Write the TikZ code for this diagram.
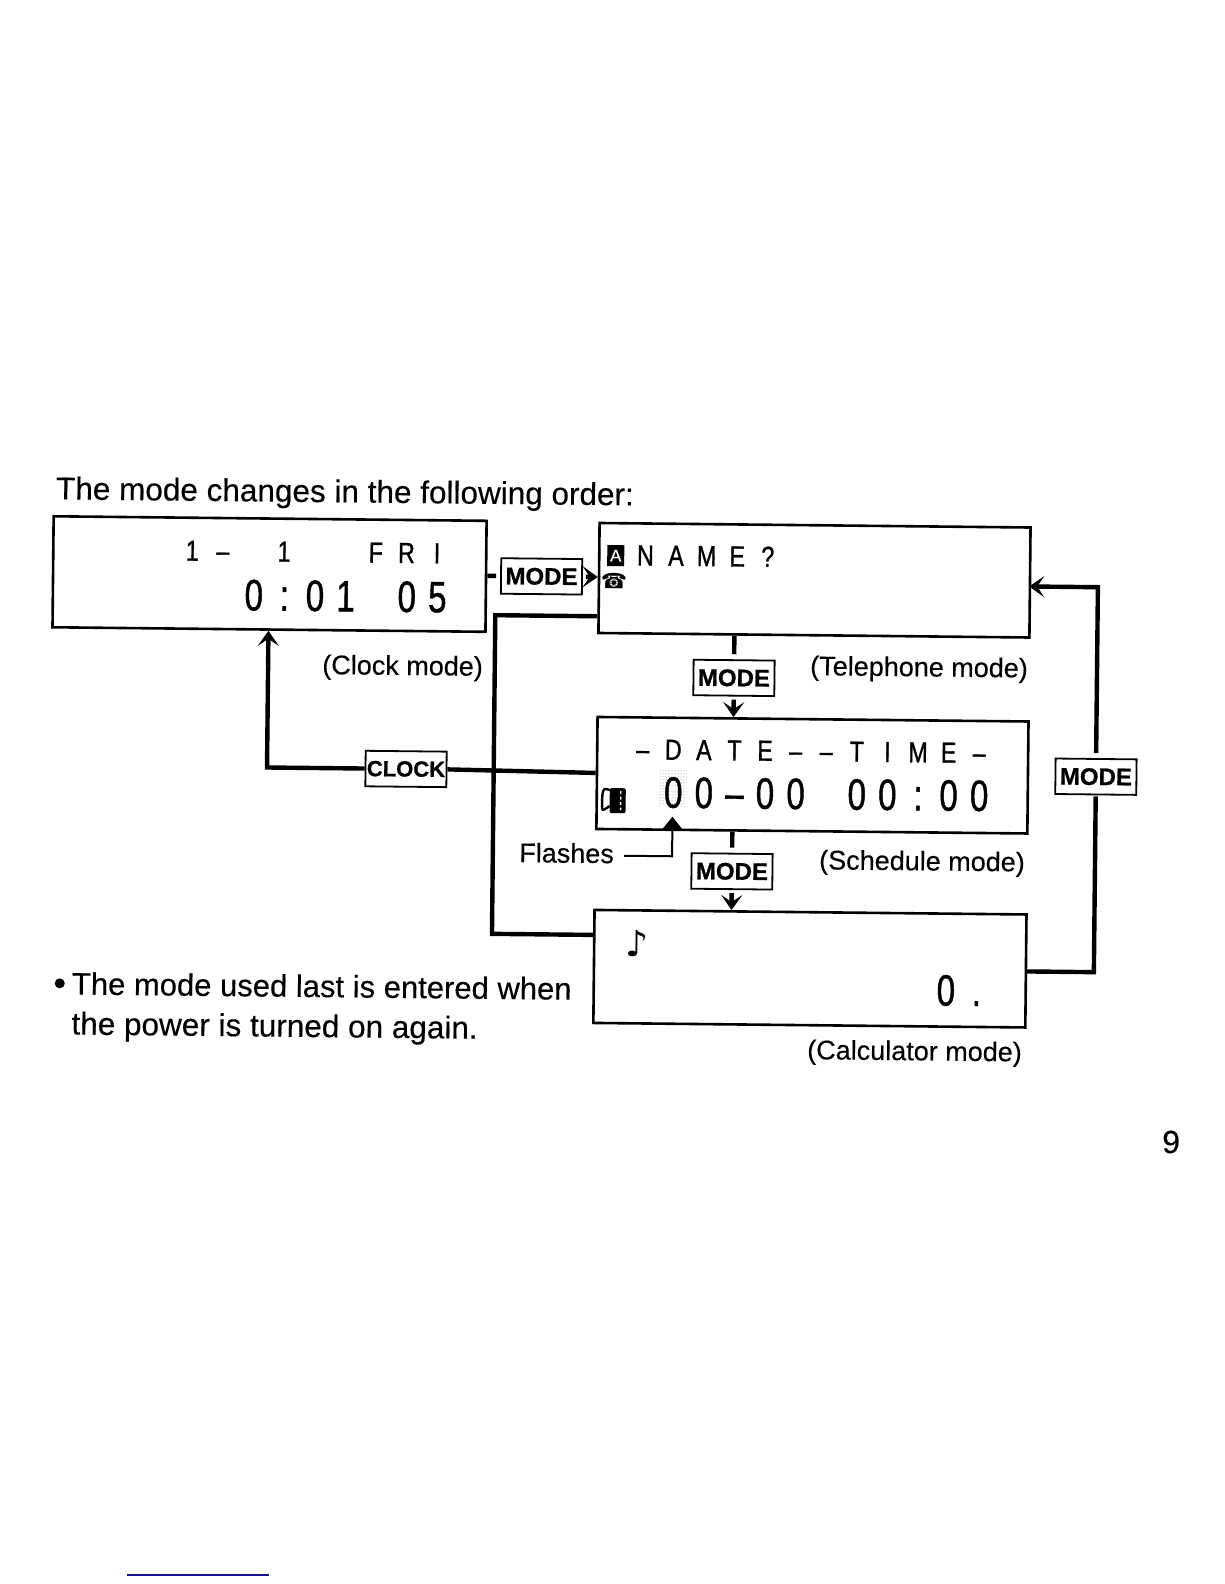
\documentclass[tikz,border=0pt]{standalone}
\usepackage{fontspec}
\setmainfont[FakeBold=0.3]{Liberation Sans}
\newfontfamily\lcdfont[FakeStretch=0.8, FakeBold=1]{Liberation Sans}
\newfontfamily\digitfont[FakeStretch=0.75, FakeBold=1]{Liberation Sans}
\newfontfamily\keyfont[BoldFeatures={FakeBold=0.8}]{Liberation Sans}
\newfontfamily\symfont{DejaVu Sans}
\definecolor{scanblue}{RGB}{20,20,140}
\usetikzlibrary{arrows.meta,patterns}
\newcommand{\lc}[1]{\makebox[30.6pt]{#1}}

\tikzset{
  panel/.style={draw, line width=2.6pt, inner sep=0pt},
  modekey/.style={draw, fill=white, line width=1.8pt, minimum width=81pt, minimum height=35.5pt,
        inner sep=0pt, font=\keyfont\bfseries\fontsize{24}{24}\selectfont},
  link/.style={line width=4.4pt},
  linkto/.style={link, shorten <=3pt, -{Stealth[length=15pt, width=21pt, inset=7pt]}},
  caption/.style={anchor=base east, inner sep=0pt, font=\fontsize{27}{27}\selectfont},
  lcdrow/.style={anchor=base west, inner sep=0pt, font=\lcdfont\fontsize{29}{29}\selectfont},
  digitrow/.style={anchor=base west, inner sep=0pt, font=\digitfont\fontsize{44}{44}\selectfont},
  bodytext/.style={anchor=base west, inner sep=0pt, font=\fontsize{31.5}{40}\selectfont}
}

\begin{document}
\begin{tikzpicture}[x=1pt, y=-1pt]
  \useasboundingbox (0,0) rectangle (1224,1584);
  \begin{scope}[rotate around={-0.6:(600,770)}, transform shape]

  % the four displays
  \node[panel, minimum width=433pt, minimum height=111pt] (clock) at (267.5,577.5) {};
  \node[panel, minimum width=431pt, minimum height=110pt] (phone) at (812.5,578) {};
  \node[panel, minimum width=431pt, minimum height=112pt] (sched) at (812.5,773) {};
  \node[panel, minimum width=432pt, minimum height=113pt] (calc) at (812,966.5) {};

  % keys
  \node[modekey] (modeA) at (539.5,577) {MODE};
  \node[modekey] (modeB) at (733,676.5) {MODE};
  \node[modekey] (modeC) at (733,870) {MODE};
  \node[modekey] (modeD) at (1096,771.5) {MODE};
  \node[modekey, font=\keyfont\bfseries\fontsize{22}{22}\selectfont] (clockkey) at (406,771) {CLOCK};

  % connectors
  \draw[link, shorten >=4pt] (clock.east |- modeA) -- (modeA.west);
  \draw[linkto] (modeA.east) -- (modeA -| phone.west);
  \draw[link, shorten >=5pt] (phone.south -| modeB) -- (modeB.north);
  \draw[linkto] (modeB.south) -- (modeB |- sched.north);
  \draw[link, shorten >=5pt] (sched.south -| modeC) -- (modeC.north);
  \draw[linkto] (modeC.south) -- (modeC |- calc.north);
  \draw[link] ([yshift=18pt]phone.south west) -- ++(-102,0) |- ([yshift=31.5pt]calc.west);
  \draw[link] (sched.west) -- (clockkey.east);
  \draw[linkto, shorten <=0pt] (clockkey.west) -| (clock.south -| 267,0);
  \draw[link, shorten >=1pt] ([yshift=-0.5pt]calc.east) -| (modeD.south);
  \draw[linkto, shorten <=5pt, shorten >=-2pt] (modeD.north) |- ([yshift=-4pt]phone.east);

  % clock display
  \node[lcdrow] (clockA) at (174.5,565) {\lc{1}\lc{–}\lc{}\lc{1}\lc{}\lc{}\lc{F}\lc{R}\lc{I}};
  \node[digitrow] (clockB) at (236.5,614) {\lc{0}\lc{:}\lc{0}\lc{1}\lc{}\lc{0}\lc{5}};
  \node[caption] (clockcap) at (482,677) {(Clock mode)};

  % telephone display
  \node[fill=black, text=white, inner sep=0pt, minimum width=17pt, minimum height=21pt,
        font=\fontsize{17}{17}\selectfont] (letter) at (613.5,555.5) {A};
  \node[inner sep=0pt, font=\symfont\fontsize{21}{21}\selectfont] (phoneicon) at (612,581) {☎};
  \node[lcdrow] (phoneA) at (627.7,565) {\lc{N}\lc{A}\lc{M}\lc{E}\lc{?}};
  \node[caption] (phonecap) at (1027,673) {(Telephone mode)};

  % schedule display
  \node[pattern=dots, pattern color=gray, minimum width=27pt, minimum height=38pt,
        inner sep=0pt] (flash) at (673.5,787) {};
  \node[lcdrow] (schedA) at (627,759) {\lc{–}\lc{D}\lc{A}\lc{T}\lc{E}\lc{–}\lc{–}\lc{T}\lc{I}\lc{M}\lc{E}\lc{–}};
  \node[digitrow] (schedB) at (658,807) {\lc{0}\lc{0}\lc{–}\lc{0}\lc{0}\lc{}\lc{0}\lc{0}\lc{:}\lc{0}\lc{0}};
  \fill[rounded corners=2pt] (610,788) rectangle (626,813);
  \draw[line width=2.4pt, rounded corners=3pt] (610,790) -- (604,788) -- (602.5,795) -- (602.5,811) -- (610,806);
  \draw[white, line width=1.4pt, dash pattern=on 3pt off 2.5pt] (621,791) -- (621,810);
  \node[caption] (schedcap) at (1026,867) {(Schedule mode)};
  \node[caption, anchor=base west] (flashes) at (520,863) {Flashes};
  \coordinate (flashtip) at (673,816);
  \draw[line width=2pt, -{Stealth[length=14pt, width=22pt, inset=0pt]}] (flashes.base east |- 0,855.5)
     ++(10,0) -| (flashtip);

  % calculator display
  \node[inner sep=0pt, font=\symfont\fontsize{36}{36}\selectfont] (note) at (639,943) {♪};
  \node[digitrow] (calcA) at (932.7,1002) {\lc{0}\lc{.}};
  \node[caption] (calccap) at (1025,1057) {(Calculator mode)};

  % page text
  \node[bodytext] (title) at (53,505) {The mode changes in the following order:};
  \node[inner sep=0pt, circle, fill, minimum size=10pt] (bullet) at (62,989) {};
  \node[bodytext, font=\fontsize{31}{40}\selectfont] (lineA) at (74,1000) {The mode used last is entered when};
  \node[bodytext] (lineB) at (74,1040) {the power is turned on again.};
  \node[anchor=base, inner sep=0pt, font=\fontsize{32}{32}\selectfont] (pageno) at (1175,1147) {9};
  \end{scope}

  \draw[scanblue, line width=1.5pt] (127,1575) -- (269,1575);
\end{tikzpicture}
\end{document}
